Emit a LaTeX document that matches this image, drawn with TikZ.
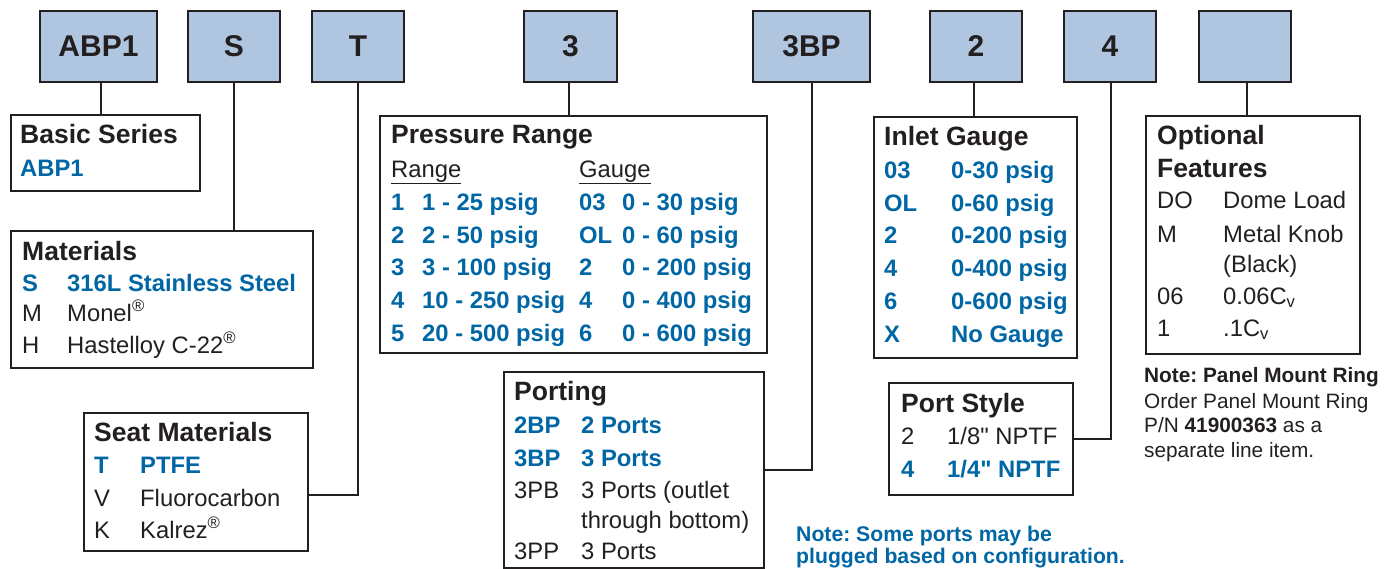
\documentclass[tikz,border=0pt]{standalone}
\usepackage{fontspec}
\setmainfont{Liberation Sans}
\newfontfamily\lsans{Liberation Sans}
\frenchspacing
\definecolor{dk}{HTML}{231F20}
\definecolor{bl}{HTML}{0066A4}
\definecolor{boxfill}{HTML}{B0C6E0}
\tikzset{
  topbox/.style={draw=dk, fill=boxfill, line width=2pt, inner sep=0pt, minimum height=71pt,
    text=dk, font=\lsans\fontsize{30}{34}\selectfont\bfseries},
  infobox/.style={draw=dk, line width=2pt, inner sep=0pt, anchor=north west},
  conn/.style={draw=dk, line width=2pt},
  txt/.style={anchor=base west, inner sep=0pt, text=dk, font=\lsans\fontsize{23.8}{28}\selectfont},
  hd/.style={txt, font=\lsans\fontsize{26.5}{30}\selectfont\bfseries},
  bt/.style={txt, text=bl, font=\lsans\fontsize{23.8}{28}\selectfont\bfseries},
  nt/.style={txt, font=\lsans\fontsize{20.8}{24}\selectfont},
  ntb/.style={txt, font=\lsans\fontsize{20.8}{24}\selectfont\bfseries},
  ntbl/.style={txt, text=bl, font=\lsans\fontsize{21.2}{24}\selectfont\bfseries},
}
\newcommand{\tx}[5]{\node[#4] (#1) at (#2,#3) {#5};}
\newcommand{\regm}{\textsuperscript{\textregistered}}
\begin{document}
\begin{tikzpicture}[x=1pt,y=-1pt]
\useasboundingbox (0,0) rectangle (1398,568);

% top code boxes
\node[topbox, minimum width=117pt] (kabp) at (98.5,46.5) {\raisebox{-2.5pt}{ABP1}};
\node[topbox, minimum width=92pt] (ks) at (234,46.5) {\raisebox{-2.5pt}{S}};
\node[topbox, minimum width=92pt] (kt) at (358,46.5) {\raisebox{-2.5pt}{T}};
\node[topbox, minimum width=93pt] (kthree) at (570.5,46.5) {\raisebox{-2.5pt}{3}};
\node[topbox, minimum width=117pt] (kbp) at (811.5,46.5) {\raisebox{-2.5pt}{3BP}};
\node[topbox, minimum width=92pt] (ktwo) at (976,46.5) {\raisebox{-2.5pt}{2}};
\node[topbox, minimum width=92pt] (kfour) at (1110,46.5) {\raisebox{-2.5pt}{4}};
\node[topbox, minimum width=92pt] (kopt) at (1245,46.5) {};

% information boxes
\node[infobox, minimum width=189pt, minimum height=76pt] (basic) at (10,114) {};
\node[infobox, minimum width=302pt, minimum height=137pt] (mat) at (10,230) {};
\node[infobox, minimum width=224pt, minimum height=138pt] (seat) at (83,412) {};
\node[infobox, minimum width=387pt, minimum height=237pt] (pr) at (379,115) {};
\node[infobox, minimum width=260pt, minimum height=196pt] (port) at (503,371) {};
\node[infobox, minimum width=203pt, minimum height=241pt] (ig) at (873,116) {};
\node[infobox, minimum width=184pt, minimum height=112pt] (ps) at (888,382) {};
\node[infobox, minimum width=214pt, minimum height=238pt] (of) at (1145,115) {};

% connectors
\draw[conn] (kabp.south -| 101,0) -- (101,0 |- basic.north);
\draw[conn] (ks.south) -- (ks.south |- mat.north);
\draw[conn] (kt.south) |- ([yshift=-13pt]seat.east);
\draw[conn] (kthree.south -| 569,0) -- (569,0 |- pr.north);
\draw[conn] (kbp.south) |- (port.east);
\draw[conn] (ktwo.south -| 974,0) -- (974,0 |- ig.north);
\draw[conn] (kfour.south -| 1111,0) |- (ps.east);
\draw[conn] (kopt.south -| 1247,0) -- (1247,0 |- of.north);

% Basic Series
\tx{bsh}{20}{143}{hd}{Basic Series}
\tx{bs1}{20}{176}{bt}{ABP1}

% Materials
\tx{mth}{22}{260}{hd}{Materials}
\tx{mtc1}{22}{291}{bt}{S}
\tx{mtd1}{67}{291}{bt}{316L Stainless Steel}
\tx{mtc2}{22}{321}{txt}{M}
\tx{mtd2}{67}{321}{txt}{Monel\regm}
\tx{mtc3}{22}{353}{txt}{H}
\tx{mtd3}{67}{353}{txt}{Hastelloy C-22\regm}

% Seat Materials
\tx{sth}{94}{441}{hd}{Seat Materials}
\tx{stc1}{94}{473}{bt}{T}
\tx{std1}{140}{473}{bt}{PTFE}
\tx{stc2}{94}{506}{txt}{V}
\tx{std2}{140}{506}{txt}{Fluorocarbon}
\tx{stc3}{94}{538}{txt}{K}
\tx{std3}{140}{538}{txt}{Kalrez\regm}

% Pressure Range
\tx{prh}{391}{143}{hd}{Pressure Range}
\tx{prr}{391}{177}{txt}{\underline{Range}}
\tx{prg}{579}{177}{txt}{\underline{Gauge}}
\tx{prc1}{391}{210}{bt}{1}
\tx{prd1}{422}{210}{bt}{1 - 25 psig}
\tx{prc2}{391}{243}{bt}{2}
\tx{prd2}{422}{243}{bt}{2 - 50 psig}
\tx{prc3}{391}{275}{bt}{3}
\tx{prd3}{422}{275}{bt}{3 - 100 psig}
\tx{prc4}{391}{308}{bt}{4}
\tx{prd4}{422}{308}{bt}{10 - 250 psig}
\tx{prc5}{391}{341}{bt}{5}
\tx{prd5}{422}{341}{bt}{20 - 500 psig}
\tx{pgc1}{579}{210}{bt}{03}
\tx{pgd1}{622}{210}{bt}{0 - 30 psig}
\tx{pgc2}{579}{243}{bt}{OL}
\tx{pgd2}{622}{243}{bt}{0 - 60 psig}
\tx{pgc3}{579}{275}{bt}{2}
\tx{pgd3}{622}{275}{bt}{0 - 200 psig}
\tx{pgc4}{579}{308}{bt}{4}
\tx{pgd4}{622}{308}{bt}{0 - 400 psig}
\tx{pgc5}{579}{341}{bt}{6}
\tx{pgd5}{622}{341}{bt}{0 - 600 psig}

% Porting
\tx{poh}{514}{400}{hd}{Porting}
\tx{poc1}{514}{433}{bt}{2BP}
\tx{pod1}{581}{433}{bt}{2 Ports}
\tx{poc2}{514}{466}{bt}{3BP}
\tx{pod2}{581}{466}{bt}{3 Ports}
\tx{poc3}{514}{498}{txt}{3PB}
\tx{pod3}{581}{498}{txt}{3 Ports (outlet}
\tx{pod3b}{581}{528}{txt}{through bottom)}
\tx{poc4}{514}{559}{txt}{3PP}
\tx{pod4}{581}{559}{txt}{3 Ports}

% Inlet Gauge
\tx{igh}{884}{145}{hd}{Inlet Gauge}
\tx{igc1}{884}{178}{bt}{03}
\tx{igd1}{951}{178}{bt}{0-30 psig}
\tx{igc2}{884}{211}{bt}{OL}
\tx{igd2}{951}{211}{bt}{0-60 psig}
\tx{igc3}{884}{243}{bt}{2}
\tx{igd3}{951}{243}{bt}{0-200 psig}
\tx{igc4}{884}{276}{bt}{4}
\tx{igd4}{951}{276}{bt}{0-400 psig}
\tx{igc5}{884}{309}{bt}{6}
\tx{igd5}{951}{309}{bt}{0-600 psig}
\tx{igc6}{884}{342}{bt}{X}
\tx{igd6}{951}{342}{bt}{No Gauge}

% Port Style
\tx{psh}{901}{412}{hd}{Port Style}
\tx{psc1}{901}{444}{txt}{2}
\tx{psd1}{947}{444}{txt}{1/8\symbol{34} NPTF}
\tx{psc2}{901}{477}{bt}{4}
\tx{psd2}{947}{477}{bt}{1/4\symbol{34} NPTF}

% Optional Features
\tx{ofh1}{1157}{144}{hd}{Optional}
\tx{ofh2}{1157}{177}{hd}{Features}
\tx{ofc1}{1157}{208}{txt}{DO}
\tx{ofd1}{1223}{208}{txt}{Dome Load}
\tx{ofc2}{1157}{242}{txt}{M}
\tx{ofd2}{1223}{242}{txt}{Metal Knob}
\tx{ofd2b}{1223}{272}{txt}{(Black)}
\tx{ofc3}{1157}{304}{txt}{06}
\tx{ofd3}{1223}{304}{txt}{0.06C\textsubscript{v}}
\tx{ofc4}{1157}{336}{txt}{1}
\tx{ofd4}{1223}{336}{txt}{.1C\textsubscript{v}}

% Notes
\tx{np1}{1144}{382}{ntb}{Note: Panel Mount Ring}
\tx{np2}{1144}{408}{nt}{Order Panel Mount Ring}
\tx{np3}{1144}{432}{nt}{P/N \textbf{41900363} as a}
\tx{np4}{1144}{457}{nt}{separate line item.}
\tx{nq1}{796}{541}{ntbl}{Note: Some ports may be}
\tx{nq2}{796}{563}{ntbl}{plugged based on configuration.}
\end{tikzpicture}
\end{document}
